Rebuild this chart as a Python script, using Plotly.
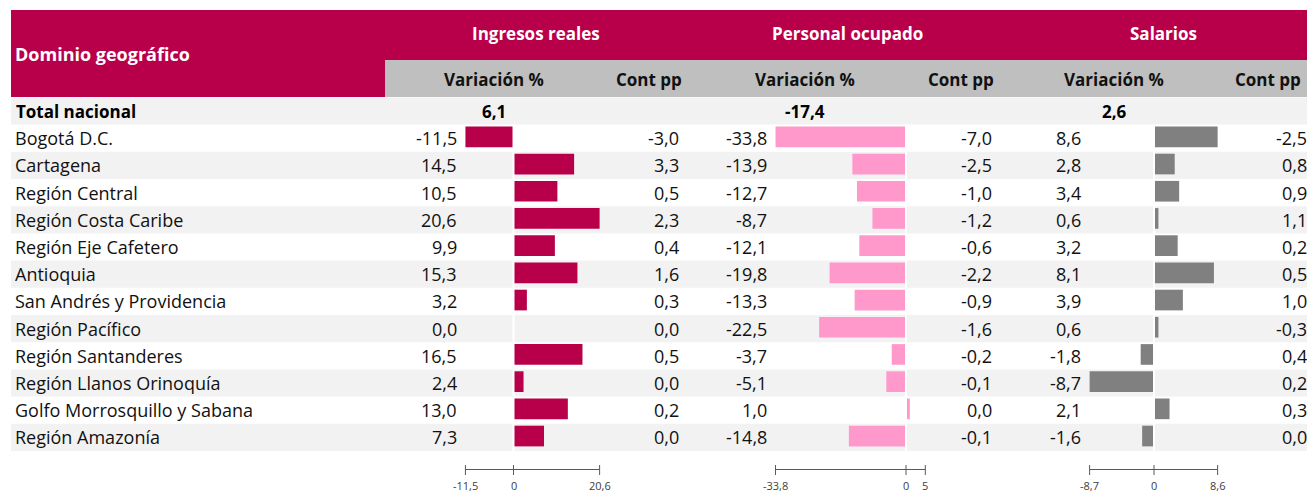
import plotly.graph_objects as go

# ---------------- data ----------------
regiones = ["Bogotá D.C.", "Cartagena", "Región Central", "Región Costa Caribe",
            "Región Eje Cafetero", "Antioquia", "San Andrés y Providencia",
            "Región Pacífico", "Región Santanderes", "Región Llanos Orinoquía",
            "Golfo Morrosquillo y Sabana", "Región Amazonía"]
ingresos_var = [-11.5, 14.5, 10.5, 20.6, 9.9, 15.3, 3.2, 0.0, 16.5, 2.4, 13.0, 7.3]
ingresos_cont = [-3.0, 3.3, 0.5, 2.3, 0.4, 1.6, 0.3, 0.0, 0.5, 0.0, 0.2, 0.0]
personal_var = [-33.8, -13.9, -12.7, -8.7, -12.1, -19.8, -13.3, -22.5, -3.7, -5.1, 1.0, -14.8]
personal_cont = [-7.0, -2.5, -1.0, -1.2, -0.6, -2.2, -0.9, -1.6, -0.2, -0.1, 0.0, -0.1]
salarios_var = [8.6, 2.8, 3.4, 0.6, 3.2, 8.1, 3.9, 0.6, -1.8, -8.7, 2.1, -1.6]
salarios_cont = [-2.5, 0.8, 0.9, 1.1, 0.2, 0.5, 1.0, -0.3, 0.4, 0.2, 0.3, 0.0]
total_label = "Total nacional"
total_var = [6.1, -17.4, 2.6]
grupos = ["Ingresos reales", "Personal ocupado", "Salarios"]
subheaders = ["Variación %", "Cont pp"]
header_left = "Dominio geográfico"
ingresos_ticks = [-11.5, 0, 20.6]
personal_ticks = [-33.8, 0, 5]
salarios_ticks = [-8.7, 0, 8.6]

# ---------------- layout constants ----------------
# the page body has an 8px margin: the figure is placed at (8, 8) on screen
OFF = 8
SW, SH = 1315, 494               # screen size
FW, FH = SW - OFF, SH - OFF       # figure size
Y0, STEP = 111.0, 27.2            # screen y of row-0 centre, row pitch
MAGENTA = "#b8004a"
PINK = "#ff99cc"
GREY_BAR = "#808080"
STRIPE = "#f2f2f2"
SUBHEAD = "#bfbfbf"
TXT = "#111111"
FONT = "Open Sans"
FS = 18        # regular body text
FSB = 17       # bold header text


def px(x):
    return (x - OFF) / FW


def py(y):
    return 1 - (y - OFF) / FH


def fmt(v):
    s = f"{v:.1f}".replace(".", ",")
    if s == "-0,0":
        s = "0,0"
    return s


def fmt_tick(v):
    if float(v).is_integer():
        return str(int(v))
    return fmt(v)


# axis pixel mapping on screen: (zero pixel, pixels per unit)
axes_px = {"x": (513.5, 4.18), "x2": (906.0, 3.86), "x3": (1154.0, 7.4)}

fig = go.Figure()

rows = list(range(1, len(regiones) + 1))
for vals, ax, col in [(ingresos_var, "x", MAGENTA), (personal_var, "x2", PINK),
                      (salarios_var, "x3", GREY_BAR)]:
    fig.add_trace(go.Bar(x=vals, y=rows, orientation="h", xaxis=ax, yaxis="y",
                         marker=dict(color=col, line=dict(width=0)),
                         width=0.76, offset=-0.43, showlegend=False,
                         hoverinfo="skip"))

shapes = []
ann = []

# header
shapes.append(dict(type="rect", xref="paper", yref="paper", x0=px(11), x1=px(1313),
                   y0=py(97), y1=py(10), fillcolor=MAGENTA, line=dict(width=0), layer="below"))
shapes.append(dict(type="rect", xref="paper", yref="paper", x0=px(385), x1=px(1313),
                   y0=py(97), y1=py(60), fillcolor=SUBHEAD, line=dict(width=0), layer="below"))
# stripes
for r in range(0, len(regiones) + 1, 2):
    shapes.append(dict(type="rect", xref="paper", yref="y", x0=px(11), x1=px(1313),
                       y0=r - 0.5, y1=r + 0.5, fillcolor=STRIPE, line=dict(width=0),
                       layer="below"))
# zero gaps
for ax in ["x", "x2", "x3"]:
    shapes.append(dict(type="line", xref=ax, yref="y", x0=0, x1=0, y0=0.5,
                       y1=len(regiones) + 0.5, line=dict(color="white", width=2),
                       layer="above"))

# header texts
ann.append(dict(text=f"<b>{header_left}</b>", xref="paper", yref="paper", x=px(13), y=py(54),
                xanchor="left", yanchor="middle", showarrow=False,
                font=dict(color="white", size=18)))
for g, cx in zip(grupos, [536, 847, 1163]):
    ann.append(dict(text=f"<b>{g}</b>", xref="paper", yref="paper", x=px(cx), y=py(34),
                    xanchor="center", yanchor="middle", showarrow=False,
                    font=dict(color="white", size=FSB)))
for i, cx in enumerate([494, 648.5, 805, 960.5, 1114, 1268]):
    ann.append(dict(text=f"<b>{subheaders[i % 2]}</b>", xref="paper", yref="paper", x=px(cx),
                    y=py(79.5), xanchor="center", yanchor="middle", showarrow=False,
                    font=dict(color=TXT, size=FSB)))

# total row
ann.append(dict(text=f"<b>{total_label}</b>", xref="paper", yref="y", x=px(14), y=0,
                xanchor="left", yanchor="middle", showarrow=False,
                font=dict(color="black", size=FSB)))
for v, cx in zip(total_var, [494, 805, 1114]):
    ann.append(dict(text=f"<b>{fmt(v)}</b>", xref="paper", yref="y", x=px(cx), y=0,
                    xanchor="center", yanchor="middle", showarrow=False,
                    font=dict(color="black", size=FSB)))

# body rows
cols = [(ingresos_var, 459), (ingresos_cont, 681), (personal_var, 769),
        (personal_cont, 994), (salarios_var, 1083), (salarios_cont, 1309)]
for i, name in enumerate(regiones):
    r = i + 1
    ann.append(dict(text=name, xref="paper", yref="y", x=px(13), y=r,
                    xanchor="left", yanchor="middle", showarrow=False,
                    font=dict(color=TXT, size=FS)))
    for vals, rx in cols:
        ann.append(dict(text=fmt(vals[i]), xref="paper", yref="y", x=px(rx), y=r,
                        xanchor="right", yanchor="middle", showarrow=False,
                        font=dict(color=TXT, size=FS)))

# bottom axes
for ax, ticks in [("x", ingresos_ticks), ("x2", personal_ticks), ("x3", salarios_ticks)]:
    shapes.append(dict(type="line", xref=ax, yref="paper", x0=min(ticks), x1=max(ticks),
                       y0=py(469.5), y1=py(469.5), line=dict(color="#595959", width=1)))
    for t in ticks:
        shapes.append(dict(type="line", xref=ax, yref="paper", x0=t, x1=t,
                           y0=py(465), y1=py(475), line=dict(color="#595959", width=1)))
        ann.append(dict(text=fmt_tick(t), xref=ax, yref="paper", x=t, y=py(485.5),
                        xanchor="center", yanchor="middle", showarrow=False,
                        font=dict(color="#404040", size=11)))

layout_axes = {}
for name, ax in [("xaxis", "x"), ("xaxis2", "x2"), ("xaxis3", "x3")]:
    z, s = axes_px[ax]
    d = dict(range=[(OFF - z) / s, (OFF + FW - z) / s], visible=False, domain=[0, 1],
             fixedrange=True, anchor="y")
    if ax != "x":
        d["overlaying"] = "x"
    layout_axes[name] = d

fig.update_layout(
    width=FW, height=FH, margin=dict(l=0, r=0, t=0, b=0),
    paper_bgcolor="white", plot_bgcolor="white",
    font=dict(family=FONT, color=TXT, size=FS),
    yaxis=dict(range=[(OFF + FH - Y0) / STEP, (OFF - Y0) / STEP], visible=False,
               fixedrange=True),
    shapes=shapes, annotations=ann, barmode="overlay", showlegend=False,
    **layout_axes,
)

fig.write_html("out.html")
